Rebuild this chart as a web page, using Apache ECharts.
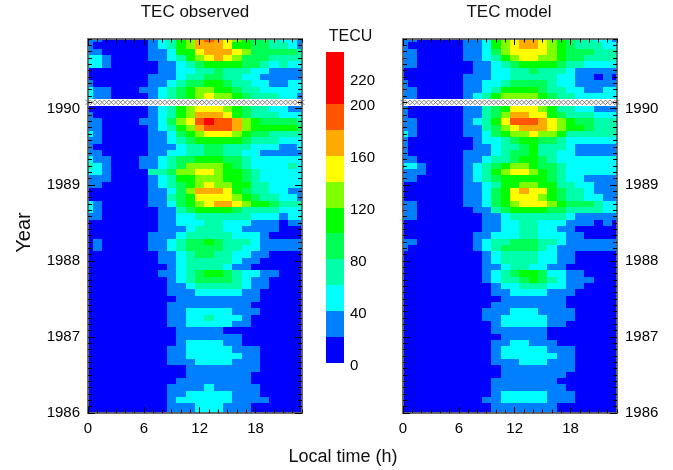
<!DOCTYPE html>
<html><head><meta charset="utf-8">
<script src="https://cdn.jsdelivr.net/npm/echarts@6/dist/echarts.min.js"></script>
<style>html,body{margin:0;background:#fff}#c{width:673px;height:470px;filter:blur(.4px)}</style></head>
<body><div id="c"></div><script>
// TECU per local hour (0..23); first row = Dec 1990, last row = Jan 1986
const observedTec = [
[30,30,10,10,10,10,10,30,50,70,110,130,170,190,170,150,130,110,90,90,70,50,50,30],
[30,10,10,10,10,10,10,30,50,70,110,130,170,170,170,150,110,110,90,90,70,70,50,30],
[30,30,10,10,10,10,10,30,30,50,110,110,150,170,170,170,150,130,90,90,90,90,90,70],
[50,50,30,10,10,10,10,30,30,50,70,110,130,150,170,150,130,90,90,90,70,70,70,70],
[50,50,30,10,10,10,10,10,30,30,50,70,90,110,110,110,110,90,90,70,50,70,50,50],
[10,10,10,10,10,10,10,10,30,30,50,50,70,70,90,70,70,70,50,50,30,30,30,30],
[10,10,10,10,10,10,10,30,30,30,50,70,70,90,90,70,70,50,50,30,30,30,30,30],
[30,10,10,10,10,10,10,30,30,50,70,90,90,110,110,90,70,70,50,50,30,30,50,50],
[50,30,30,10,10,10,30,30,50,70,90,110,130,130,110,110,90,70,70,50,50,50,50,50],
[50,30,30,10,10,10,10,30,50,70,90,110,130,150,130,130,110,90,70,70,70,50,50,30],
[null,null,null,null,null,null,null,null,null,null,null,null,null,null,null,null,null,null,null,null,null,null,null,null],
[10,10,10,10,10,10,10,30,50,70,110,130,150,150,150,130,110,90,70,70,50,50,30,30],
[30,10,10,10,10,10,10,30,50,70,110,130,170,170,170,150,110,90,70,70,70,50,50,50],
[30,30,10,10,10,10,30,30,50,90,130,150,190,210,190,190,170,130,110,90,90,90,90,70],
[30,30,10,10,10,10,10,30,50,70,110,130,170,190,190,190,170,130,110,110,110,110,110,90],
[50,30,10,10,10,10,10,30,30,50,90,110,130,150,150,150,130,110,90,90,70,70,70,70],
[30,30,10,10,10,10,10,30,30,50,70,90,110,110,110,110,110,90,70,70,70,50,50,50],
[30,10,10,10,10,10,10,30,30,30,50,70,70,90,90,70,70,70,50,50,50,30,30,50],
[30,30,10,10,10,10,10,30,30,50,50,70,70,90,90,70,70,50,50,30,30,30,30,30],
[50,30,30,10,10,10,30,30,50,70,90,90,110,110,110,90,90,70,50,50,50,50,50,50],
[70,50,30,10,10,10,30,30,50,70,90,130,130,130,130,110,90,70,50,50,50,50,70,50],
[50,50,30,10,10,10,10,70,70,90,130,130,150,150,130,110,110,90,70,50,50,50,50,50],
[30,30,30,10,10,10,10,30,50,70,110,110,130,130,130,110,110,90,70,50,50,50,50,50],
[30,30,10,10,10,10,10,30,50,70,90,110,130,150,130,130,110,110,70,70,50,50,50,50],
[10,10,10,10,10,10,10,30,30,50,90,130,170,170,170,150,110,90,70,70,50,50,30,30],
[10,10,10,10,10,10,10,30,30,70,90,110,150,150,150,150,130,110,90,70,70,50,50,30],
[50,30,10,10,10,10,10,30,30,50,90,110,130,150,170,170,150,130,110,110,90,70,70,70],
[50,30,10,10,10,10,10,10,30,30,70,90,110,110,110,110,90,70,70,70,70,50,50,50],
[30,30,10,10,10,10,10,10,30,30,50,50,70,70,70,70,70,70,50,50,50,30,50,50],
[10,10,10,10,10,10,10,10,30,30,50,50,50,70,70,50,50,50,30,30,30,10,30,30],
[10,10,10,10,10,10,10,10,30,30,30,50,70,70,70,50,50,30,30,30,30,10,10,10],
[10,10,10,10,10,10,10,30,30,30,50,70,70,70,70,70,50,50,50,30,10,10,10,10],
[10,30,10,10,10,10,10,30,30,50,70,90,90,110,90,70,70,70,50,30,30,30,30,30],
[10,30,10,10,10,10,10,30,30,50,70,90,90,90,90,70,70,50,50,30,30,30,30,30],
[10,10,10,10,10,10,10,10,30,30,50,70,90,90,70,70,50,50,30,30,10,10,10,10],
[10,10,10,10,10,10,10,10,30,30,50,70,70,70,70,70,50,30,30,10,10,10,10,10],
[10,10,10,10,10,10,10,10,10,30,50,70,70,70,70,50,30,30,10,10,10,10,10,10],
[10,10,10,10,10,10,10,10,30,30,50,70,90,110,110,90,70,50,50,30,30,10,10,10],
[10,10,10,10,10,10,10,10,10,30,50,70,90,90,90,90,70,50,30,30,10,10,10,10],
[10,10,10,10,10,10,10,10,10,30,30,50,70,70,70,70,70,50,30,30,10,10,10,10],
[10,10,10,10,10,10,10,10,10,30,30,30,50,50,50,50,50,30,30,10,10,10,10,10],
[10,10,10,10,10,10,10,10,10,10,30,30,30,30,30,30,30,30,30,10,10,10,10,10],
[10,10,10,10,10,10,10,10,10,30,30,30,30,30,30,30,30,30,10,10,10,10,10,10],
[10,10,10,10,10,10,10,10,10,30,30,50,50,50,50,50,30,30,30,10,10,10,10,10],
[10,10,10,10,10,10,10,10,10,30,30,50,50,70,50,50,50,30,10,10,10,10,10,10],
[10,10,10,10,10,10,10,10,10,30,30,50,50,50,50,50,30,30,10,10,10,10,10,10],
[10,10,10,10,10,10,10,10,10,10,30,30,30,30,30,10,10,10,10,10,10,10,10,10],
[10,10,10,10,10,10,10,10,10,10,30,30,30,30,30,30,30,10,10,10,10,10,10,10],
[10,10,10,10,10,10,10,10,10,10,30,50,50,50,50,30,30,10,10,10,10,10,10,10],
[10,10,10,10,10,10,10,10,10,30,30,50,50,50,50,50,30,30,30,10,10,10,10,10],
[10,10,10,10,10,10,10,10,10,30,30,50,50,50,50,50,50,30,30,10,10,10,10,10],
[10,10,10,10,10,10,10,10,10,30,30,30,50,50,50,50,30,30,30,10,10,10,10,10],
[10,10,10,10,10,10,10,10,10,10,10,30,30,30,30,30,30,30,30,10,10,10,10,10],
[10,10,10,10,10,10,10,10,10,10,10,30,30,30,30,30,30,30,10,10,10,10,10,10],
[10,10,10,10,10,10,10,10,10,10,30,30,30,30,30,30,30,30,10,10,10,10,10,10],
[10,10,10,10,10,10,10,10,10,30,30,30,30,50,30,30,30,30,30,10,10,10,10,10],
[10,10,10,10,10,10,10,10,10,30,30,50,50,50,50,50,30,30,30,10,10,10,10,10],
[10,10,10,10,10,10,10,10,10,30,50,50,50,50,50,50,30,30,30,30,10,10,10,10],
[10,10,10,10,10,10,10,10,10,30,30,30,50,50,50,30,30,30,10,10,10,10,10,10],
[10,10,10,10,10,10,10,10,10,30,30,30,50,50,50,30,30,30,10,10,10,10,10,10]
];
const modelTec = [
[30,30,10,10,10,10,10,30,30,50,110,130,150,170,170,150,130,110,90,70,70,50,50,30],
[30,10,10,10,10,10,10,30,30,50,110,130,150,170,170,150,130,110,90,70,70,70,50,50],
[30,30,10,10,10,10,10,30,30,50,90,130,150,150,150,150,130,110,90,90,90,70,70,70],
[30,30,10,10,10,10,10,30,30,50,70,110,130,150,150,130,130,110,90,90,70,70,70,70],
[30,30,10,10,10,10,10,10,30,30,50,70,90,110,110,110,110,90,70,70,50,50,50,50],
[10,10,10,10,10,10,10,10,30,30,50,50,70,70,90,70,70,70,50,30,30,30,30,30],
[10,10,10,10,10,10,10,30,30,30,50,50,70,70,70,70,70,50,50,30,30,10,30,10],
[30,10,10,10,10,10,10,30,30,50,50,70,90,90,90,90,70,50,50,30,30,30,30,30],
[30,30,10,10,10,10,10,30,30,50,70,110,110,110,110,90,70,70,50,50,30,30,50,50],
[30,30,10,10,10,10,10,30,50,70,110,130,130,130,130,110,90,70,70,50,50,50,50,50],
[null,null,null,null,null,null,null,null,null,null,null,null,null,null,null,null,null,null,null,null,null,null,null,null],
[30,10,10,10,10,10,10,30,30,70,90,110,150,150,150,130,110,70,70,50,50,30,30,30],
[30,10,10,10,10,10,10,30,30,70,90,130,170,170,150,150,110,90,70,70,70,50,50,50],
[30,30,10,10,10,10,10,30,50,70,110,150,190,190,190,170,150,130,110,90,90,70,70,70],
[30,30,10,10,10,10,10,30,30,70,90,130,150,170,170,170,150,130,110,110,90,70,70,70],
[50,30,10,10,10,10,10,30,30,50,90,110,130,130,150,130,130,110,70,70,70,70,70,70],
[30,10,10,10,10,10,10,10,30,50,50,70,90,110,110,90,90,70,50,50,50,50,50,50],
[30,10,10,10,10,10,10,10,30,30,50,70,70,90,110,70,70,70,50,30,30,30,30,30],
[30,10,10,10,10,10,10,30,30,30,50,70,90,90,110,70,70,50,50,30,30,30,30,30],
[30,30,10,10,10,10,10,30,30,50,70,70,90,110,110,90,70,50,50,50,50,50,50,50],
[50,50,30,10,10,10,10,30,50,70,90,110,130,130,110,90,90,70,50,50,50,50,50,50],
[30,30,30,10,10,10,10,30,50,70,110,130,150,150,130,110,90,70,50,50,50,50,50,50],
[30,30,10,10,10,10,10,30,50,70,90,110,110,110,110,110,90,70,50,50,30,30,30,30],
[10,10,10,10,10,10,10,30,30,50,70,110,110,130,130,110,110,70,70,50,50,30,30,30],
[10,10,10,10,10,10,10,30,30,50,90,110,150,170,150,150,110,90,70,70,50,30,30,30],
[10,10,10,10,10,10,10,30,30,50,90,110,150,150,150,130,110,90,70,70,50,50,30,30],
[30,30,10,10,10,10,10,30,30,50,90,110,130,150,150,150,130,110,90,90,90,70,50,50],
[30,30,10,10,10,10,10,10,30,30,70,90,110,110,110,110,90,90,70,70,70,70,50,50],
[30,30,10,10,10,10,10,10,10,30,30,50,70,70,70,70,70,70,50,30,30,30,30,30],
[10,10,10,10,10,10,10,10,10,30,30,50,50,70,70,50,50,50,30,30,30,10,30,10],
[10,10,10,10,10,10,10,10,10,30,30,50,50,70,70,50,50,30,30,10,10,10,10,10],
[10,10,10,10,10,10,10,10,30,30,50,50,50,70,70,50,50,50,30,30,10,10,10,10],
[30,30,10,10,10,10,10,10,30,50,70,70,90,90,90,70,70,50,30,30,30,30,30,30],
[30,10,10,10,10,10,10,10,30,50,70,90,90,90,90,70,50,30,30,30,30,30,30,30],
[10,10,10,10,10,10,10,10,10,30,50,70,70,70,70,50,50,30,30,10,10,10,10,10],
[10,10,10,10,10,10,10,10,10,30,50,70,70,70,70,50,50,30,30,10,10,10,10,10],
[10,10,10,10,10,10,10,10,10,30,30,50,70,70,50,50,30,30,10,10,10,10,10,10],
[10,10,10,10,10,10,10,10,10,30,50,70,90,110,110,90,50,50,30,30,10,10,10,10],
[10,10,10,10,10,10,10,10,10,30,50,70,70,90,110,90,70,50,30,30,30,10,10,10],
[10,10,10,10,10,10,10,10,10,10,30,50,50,70,70,70,50,50,30,30,10,10,10,10],
[10,10,10,10,10,10,10,10,10,10,30,30,50,50,50,50,30,30,30,10,10,10,10,10],
[10,10,10,10,10,10,10,10,10,10,10,30,30,30,30,30,30,30,10,10,10,10,10,10],
[10,10,10,10,10,10,10,10,10,10,30,30,30,30,30,30,30,30,10,10,10,10,10,10],
[10,10,10,10,10,10,10,10,10,30,30,30,50,50,50,30,30,30,30,10,10,10,10,10],
[10,10,10,10,10,10,10,10,10,30,30,50,50,50,50,50,30,30,30,10,10,10,10,10],
[10,10,10,10,10,10,10,10,10,10,30,50,50,50,50,50,30,30,10,10,10,10,10,10],
[10,10,10,10,10,10,10,10,10,10,30,30,30,30,30,30,10,10,10,10,10,10,10,10],
[10,10,10,10,10,10,10,10,10,10,10,30,30,30,30,30,10,10,10,10,10,10,10,10],
[10,10,10,10,10,10,10,10,10,10,30,30,50,50,30,30,30,10,10,10,10,10,10,10],
[10,10,10,10,10,10,10,10,10,10,30,50,50,50,50,50,30,30,30,10,10,10,10,10],
[10,10,10,10,10,10,10,10,10,10,30,50,50,50,50,50,50,30,30,10,10,10,10,10],
[10,10,10,10,10,10,10,10,10,10,30,30,30,50,50,50,30,30,30,10,10,10,10,10],
[10,10,10,10,10,10,10,10,10,10,10,30,30,30,30,30,30,30,30,10,10,10,10,10],
[10,10,10,10,10,10,10,10,10,10,10,30,30,30,30,30,30,30,10,10,10,10,10,10],
[10,10,10,10,10,10,10,10,10,10,30,30,30,30,30,30,30,10,10,10,10,10,10,10],
[10,10,10,10,10,10,10,10,10,10,30,30,30,30,30,30,30,30,10,10,10,10,10,10],
[10,10,10,10,10,10,10,10,10,10,30,50,50,50,50,50,30,30,30,10,10,10,10,10],
[10,10,10,10,10,10,10,10,10,30,30,50,50,50,50,50,30,30,30,10,10,10,10,10],
[10,10,10,10,10,10,10,10,10,10,30,30,30,30,30,30,30,10,10,10,10,10,10,10],
[10,10,10,10,10,10,10,10,10,10,30,30,30,30,30,30,30,10,10,10,10,10,10,10]
];
const bandColors = ['#0000ff','#0080ff','#00ffff','#00ffaa','#00ff55','#00ff00','#80ff00','#ffff00','#ffaa00','#ff5500','#ff0000','#ff0000'];
const bandEdges = [0,20,40,60,80,100,120,140,160,180,200,220];
const colorbarLabels = [0,40,80,120,160,200,220];
const hourLabels = [0,6,12,18];
const hourTicks = [0,1,2,3,4,5,6,7,8,9,10,11,12,13,14,15,16,17,18,19,20,21,22,23];
const yearLabels = [1986,1987,1988,1989,1990];
const missingMonth = 1990 + 1/12;
const missingHours = [0,0.5,1,1.5,2,2.5,3,3.5,4,4.5,5,5.5,6,6.5,7,7.5,8,8.5,9,9.5,10,10.5,11,11.5,12,12.5,13,13.5,14,14.5,15,15.5,16,16.5,17,17.5,18,18.5,19,19.5,20,20.5,21,21.5,22,22.5,23];

const HALF_MONTH = 1/24, TMIN = 1986, TMAX = 1986 + 59/12;
const FONT = '"Liberation Sans", Arial, sans-serif';
const monthTicks = [];
for (let i = 0; i < 60; i++) monthTicks.push(TMIN + i/12);

function toCells(rows) {
  const out = [];
  rows.forEach((row, r) => {
    const t = TMIN + (rows.length - 1 - r)/12;
    row.forEach((v, h) => { if (v !== null) out.push([h, t, v]); });
  });
  return out;
}
function snapped(a, b) {
  const x0 = Math.round(a[0]), y0 = Math.round(a[1]), x1 = Math.round(b[0]), y1 = Math.round(b[1]);
  return {x:x0, y:y0, width:x1-x0, height:y1-y0};
}
function renderCell(params, api) {
  const h = api.value(0), t = api.value(1), v = api.value(2);
  const a = api.coord([h - .5, t + HALF_MONTH]), b = api.coord([h + .5, t - HALF_MONTH]);
  const cs = params.coordSys;
  const shape = echarts.graphic.clipRectByRect(snapped(a, b),
    {x: cs.x, y: cs.y, width: cs.width, height: cs.height});
  const fill = bandColors[Math.min(11, Math.floor(v/20))];
  return shape && {type:'rect', shape, style:{fill}};
}
function renderBar(params, api) {
  const lo = api.value(1);
  const fill = bandColors[params.dataIndex];
  return {type:'rect', shape:snapped(api.coord([0, lo + 20]), api.coord([1, lo])), style:{fill}};
}
const frame = {show:true, onZero:false, lineStyle:{color:'#666', width:1.5}};
function xAx(g, pos, ticks, len, labels) {
  return {type:'value', gridIndex:g, position:pos, min:0, max:23, z:10, splitLine:{show:false},
    axisLine:frame, axisTick:{show:true, inside:true, length:len, customValues:ticks, lineStyle:{color:'#000', width:1}},
    axisLabel: labels ? {show:true, customValues:labels, color:'#000', fontSize:15, fontFamily:FONT, margin:8} : {show:false}};
}
function yAx(g, pos, ticks, len, labels) {
  return {type:'value', gridIndex:g, position:pos, min:TMIN, max:TMAX, z:10, splitLine:{show:false},
    axisLine:frame, axisTick:{show:true, inside:true, length:len, customValues:ticks, lineStyle:{color:'#000', width:1}},
    axisLabel: labels ? {show:true, customValues:labels, color:'#000', fontSize:15, fontFamily:FONT, margin:8, formatter:v=>String(Math.round(v))} : {show:false}};
}
const xAxes = [], yAxes = [];
[0,1].forEach(g => {
  xAxes.push(xAx(g,'bottom',hourLabels,6,hourLabels), xAx(g,'bottom',hourTicks,3.5), xAx(g,'top',hourLabels,6), xAx(g,'top',hourTicks,3.5));
});
yAxes.push(
  yAx(0,'left',yearLabels,7,yearLabels), yAx(0,'left',monthTicks,4), yAx(0,'right',yearLabels,7), yAx(0,'right',monthTicks,4),
  yAx(1,'left',yearLabels,7), yAx(1,'left',monthTicks,4), yAx(1,'right',yearLabels,7,yearLabels), yAx(1,'right',monthTicks,4));
// colour bar axes: index 8 carries the bar, index 9 (grid nudged down) carries its labels
xAxes.push({type:'value', gridIndex:2, min:0, max:1, show:false});
yAxes.push({type:'value', gridIndex:2, min:0, max:240, show:false});
xAxes.push({type:'value', gridIndex:3, min:0, max:1, show:false});
yAxes.push({type:'value', gridIndex:3, min:0, max:240, interval:20, position:'right', splitLine:{show:false},
  axisLine:{show:false}, axisTick:{show:false},
  axisLabel:{show:true, customValues:colorbarLabels, color:'#000', fontSize:15, fontFamily:FONT, margin:6}});

const missing = missingHours.map(h => [h, missingMonth]);
const crossPath = 'path://M0 0L10 10M10 0L0 10';
function crossSeries(g) {
  return {type:'scatter', xAxisIndex:g*4, yAxisIndex:g*4, data:missing, symbol:crossPath, symbolSize:5, z:5, silent:true, clip:true,
    itemStyle:{color:'none', borderColor:'#666', borderWidth:1}};
}
const titleStyle = size => ({fontSize:size, fontWeight:'normal', fontFamily:FONT, color:'#111'});
const chart = echarts.init(document.getElementById('c'), null, {renderer:'canvas'});
chart.setOption({
  animation:false, backgroundColor:'#fff',
  title:[
    {text:'TEC observed', left:195, top:4, padding:0, textAlign:'center', textStyle:titleStyle(17)},
    {text:'TEC model', left:509, top:4, padding:0, textAlign:'center', textStyle:titleStyle(17)},
    {text:'TECU', left:350.5, top:29, padding:0, textAlign:'center', textStyle:titleStyle(16)},
    {text:'Local time (h)', left:343, top:448, padding:0, textAlign:'center', textStyle:titleStyle(18)}
  ],
  graphic:[{type:'text', x:24, y:232.5, rotation:Math.PI/2, style:{text:'Year', fontSize:20, fontFamily:FONT, fill:'#111', align:'center', verticalAlign:'middle'}}],
  grid:[
    {left:88, top:39, width:214, height:374},
    {left:403, top:39, width:214, height:374},
    {left:326, top:52, width:18, height:311},
    {left:326, top:54.5, width:18, height:311}
  ],
  xAxis:xAxes, yAxis:yAxes,
  series:[
    {type:'custom', xAxisIndex:0, yAxisIndex:0, data:toCells(observedTec), renderItem:renderCell, clip:true, silent:true, encode:{x:0,y:1}},
    {type:'custom', xAxisIndex:4, yAxisIndex:4, data:toCells(modelTec), renderItem:renderCell, clip:true, silent:true, encode:{x:0,y:1}},
    crossSeries(0), crossSeries(1),
    {type:'custom', xAxisIndex:8, yAxisIndex:8, data:bandEdges.map(e=>[0,e]), renderItem:renderBar, silent:true, encode:{x:0,y:1}}
  ]
});
</script></body></html>
